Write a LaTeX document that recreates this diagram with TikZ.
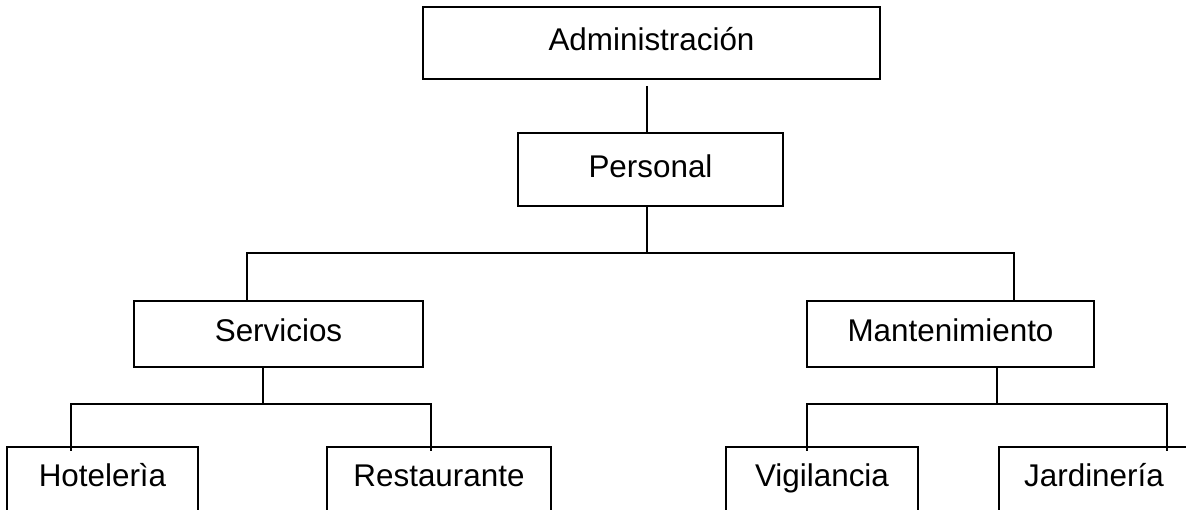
\documentclass[tikz,border=0pt]{standalone}
\usepackage{fontspec}
\setmainfont{Liberation Sans}
\begin{document}
\begin{tikzpicture}[x=1pt,y=-1pt,
  box/.style={draw, line width=1.6pt, inner sep=0pt, text height=22.5pt, text depth=7pt,
    font=\fontsize{31.4}{36}\selectfont},
  conn/.style={line width=1.6pt}]
\clip (0,0) rectangle (1186,510);
\fill[white] (0,0) rectangle (1186,510);
\node[box, minimum width=457pt, minimum height=72pt] (adm) at (651.5,43) {Administración};
\node[box, minimum width=265pt, minimum height=73pt] (per) at (650.5,169.5) {Personal};
\node[box, minimum width=289pt, minimum height=66pt] (ser) at (278.5,334) {Servicios};
\node[box, minimum width=287pt, minimum height=66pt] (man) at (950.5,334) {Mantenimiento};
\node[box, minimum width=191pt, minimum height=64pt] (hot) at (102.5,479) {Hotelerìa};
\node[box, minimum width=224pt, minimum height=64pt] (res) at (439,479) {Restaurante};
\node[box, minimum width=192pt, minimum height=64pt] (vig) at (822,479) {Vigilancia};
\node[box, minimum width=190pt, minimum height=64pt] (jar) at (1094,479) {Jardinería};
\coordinate (b1) at (647,253);
\coordinate (s1) at (263,404);
\coordinate (m1) at (997,404);
\draw[conn] ([xshift=-4.5pt,yshift=-6pt]adm.south) -- ([xshift=-3.5pt]per.north);
\draw[conn] ([xshift=-3.5pt]per.south) -- (b1);
\draw[conn] ([xshift=-31.5pt]ser.north) |- (b1);
\draw[conn] (b1) -| ([xshift=63.5pt]man.north);
\draw[conn] ([xshift=-15.5pt]ser.south) -- (s1);
\draw[conn] (s1) -| ([xshift=-31.5pt,yshift=-5pt]hot.north);
\draw[conn] (s1) -| ([xshift=-8pt,yshift=-5pt]res.north);
\draw[conn] ([xshift=46.5pt]man.south) -- (m1);
\draw[conn] (m1) -| ([xshift=-15pt,yshift=-5pt]vig.north);
\draw[conn] (m1) -| ([xshift=73pt,yshift=-5pt]jar.north);
\end{tikzpicture}
\end{document}
